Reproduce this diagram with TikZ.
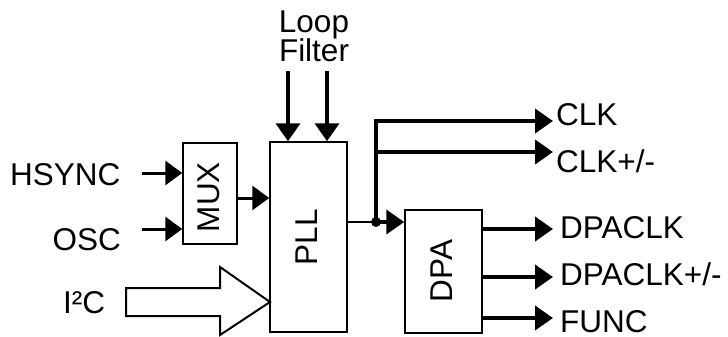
\documentclass[tikz,border=0pt]{standalone}
\usepackage{fontspec}
\setmainfont{Liberation Sans}
\usetikzlibrary{arrows.meta}
\begin{document}
\begin{tikzpicture}[x=1pt,y=-1pt,
  box/.style={draw,line width=1.5pt,inner sep=0pt},
  lbl/.style={inner sep=0pt,font=\fontsize{31.5}{33}\selectfont},
  sig/.style={line width=3pt,-{Triangle[length=17pt,width=24pt]}},
  bus/.style={line width=4pt,-{Triangle[length=18pt,width=24pt]}}]
\useasboundingbox (0,0) rectangle (728,337);
% boxes
\node[box,minimum width=54pt,minimum height=101pt] (mux) at (210,193.5) {};
\node[box,minimum width=77pt,minimum height=190pt] (pll) at (308.5,237) {};
\node[box,minimum width=77pt,minimum height=123pt] (dpa) at (443.5,271.5) {};
\node[lbl,rotate=90] (muxt) at (209,197) {MUX};
\node[lbl,rotate=90] (pllt) at (307,237) {PLL};
\node[lbl,rotate=90] (dpat) at (442,271) {DPA};
% inputs
\node[lbl,anchor=base west] (hs) at (10,185) {HSYNC};
\node[lbl,anchor=base east] (osc) at (121,250) {OSC};
\node[lbl,anchor=base west] (i2c) at (63,313) {I²C};
\coordinate (hsin) at (142,173);
\coordinate (oscin) at (142,229);
\draw[sig] (hsin) -- (hsin -| mux.west);
\draw[sig] (oscin) -- (oscin -| mux.west);
\coordinate (muxo) at (237,198);
\draw[sig] (muxo) -- (muxo -| pll.west);
% I2C block arrow
\coordinate (i2ctip) at (270,302);
\draw[line width=2pt,line join=miter] (126,288) -- (220,288) -- (220,267) -- (i2ctip) -- (220,335) -- (220,316) -- (126,316) -- cycle;
% loop filter
\node[lbl,anchor=base] (loop) at (314,33) {Loop};
\node[lbl,anchor=base] (filt) at (314,62) {Filter};
\coordinate (lf1) at (288,71);
\coordinate (lf2) at (327,71);
\draw[bus] (lf1) -- (lf1 |- pll.north);
\draw[bus] (lf2) -- (lf2 |- pll.north);
% PLL output
\coordinate (j) at (376,222);
\draw[line width=2pt] (j -| pll.east) -- (j);
\fill (j) circle (5pt);
\draw[bus] (j) -- (j -| dpa.west);
\coordinate (c1) at (553,121);
\coordinate (c2) at (553,152);
\draw[line width=4pt] (j) -- (j |- c1);
\draw[bus] ([xshift=-2pt]j |- c1) -- (c1);
\draw[bus] (j |- c2) -- (c2);
\node[lbl,anchor=base west] (clk) at (556,125) {CLK};
\node[lbl,anchor=base west] (clkpm) at (556,172) {CLK+/-};
% DPA outputs
\coordinate (d1) at (553,229);
\coordinate (d2) at (553,277);
\coordinate (d3) at (553,318);
\draw[bus] (d1 -| dpa.east) -- (d1);
\draw[bus] (d2 -| dpa.east) -- (d2);
\draw[bus] (d3 -| dpa.east) -- (d3);
\node[lbl,anchor=base west] (dc) at (560,238) {DPACLK};
\node[lbl,anchor=base west] (dcpm) at (560,285) {DPACLK+/-};
\node[lbl,anchor=base west] (fn) at (560,332) {FUNC};
\end{tikzpicture}
\end{document}
